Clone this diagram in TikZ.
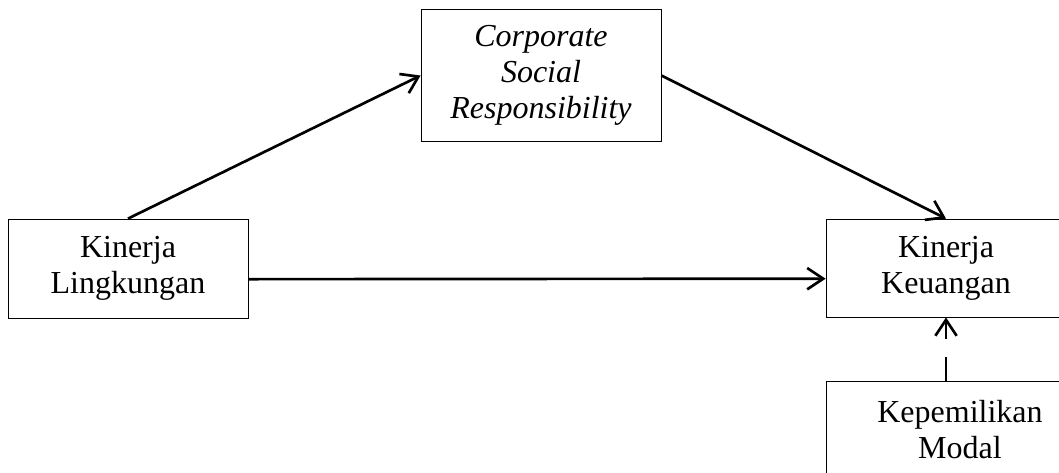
\documentclass[tikz,border=0pt]{standalone}
\usepackage{fontspec}
\setmainfont{Liberation Serif}
\usetikzlibrary{arrows.meta}
\begin{document}
\begin{tikzpicture}[x=0.75pt,y=-0.75pt,
  box/.style={draw=black,line width=0.6pt,inner sep=0pt,align=center,
    font=\fontsize{24}{27}\selectfont,minimum width=180pt},
  tip/.style={-{Straight Barb[length=12pt,width=16pt,line width=2pt]}},
  conn/.style={line width=2pt,tip}]
\useasboundingbox (0,0) rectangle (1059,472);
\clip (0,0) rectangle (1059,472);
\node[box,minimum height=99pt] (csr) at (541,75.5) {\itshape Corporate\\\itshape Social\\\itshape Responsibility};
\node[box,minimum height=74.25pt] (lk) at (128,268.5) {Kinerja\\Lingkungan};
\node[box,minimum height=73.5pt] (ku) at (946,268) {Kinerja\\Keuangan};
\node[box,minimum height=73.5pt,minimum width=201pt] (km) at (960,430) {Kepemilikan\\Modal};
\draw[conn] (lk.north) -- (csr.west);
\draw[conn] (csr.east) -- (ku.north);
\draw[conn] ([yshift=-8pt]lk.east) -- ([yshift=-8pt]ku.west);
\draw[line width=1.3pt,dash pattern=on 18pt off 13pt on 40pt,tip] (ku.south |- km.north) -- (ku.south);
\end{tikzpicture}
\end{document}
